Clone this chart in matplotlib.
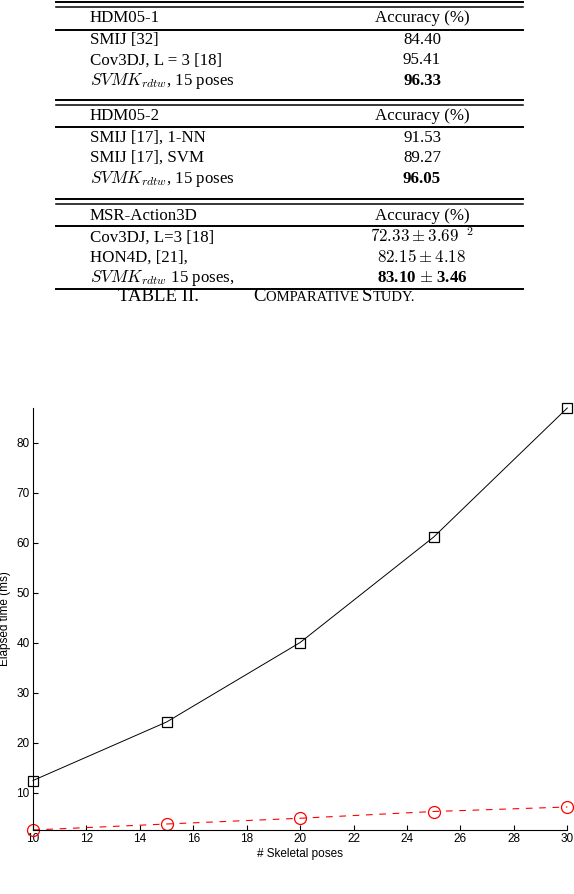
import matplotlib
matplotlib.use("Agg")
import matplotlib.pyplot as plt
from matplotlib.lines import Line2D

# --- data ---
poses = [10, 15, 20, 25, 30]
time_black = [12.4, 24.1, 40.0, 61.1, 86.9]
time_red = [2.5, 3.7, 4.85, 6.2, 7.1]

headers = ["HDM05-1", "HDM05-2", "MSR-Action3D"]
methods = [
	["SMIJ [32]", "Cov3DJ, L = 3 [18]", r"$SVMK_{rdtw}$, 15 poses"],
	["SMIJ [17], 1-NN", "SMIJ [17], SVM", r"$SVMK_{rdtw}$, 15 poses"],
	["Cov3DJ, L=3 [18]", "HON4D, [21],", r"$SVMK_{rdtw}$ 15 poses,"],
]
accuracies = [
	["84.40", "95.41", "96.33"],
	["91.53", "89.27", "96.05"],
	[r"$72.33 \pm 3.69\;\;{}^{2}$", r"$82.15 \pm 4.18$", r"83.10 $\pm$ 3.46"],
]
best = 2

plt.rcParams["mathtext.fontset"] = "cm"

fig = plt.figure(figsize=(5.74, 8.94), dpi=100)

# table drawn in pixel coordinates on an invisible axes
tab = fig.add_axes([0, 0, 1, 1])
tab.set_xlim(0, 574)
tab.set_ylim(894, 0)
tab.axis("off")

x0, x1 = 56, 523
xl, xr = 90, 422
double_y = [2, 100, 199]
header_y = [21.5, 120.5, 220]
rule_y = [30, 126.5, 226]
row_y = [[44, 64.5, 85], [141.5, 162, 183], [241.5, 261.5, 282]]
bottom_y = 289
serif = "Liberation Serif"
fs = 12.2

for b in range(3):
	top = double_y[b]
	tab.add_line(Line2D([x0, x1], [top, top], color="k", lw=1.4))
	tab.add_line(Line2D([x0, x1], [top + 4.5, top + 4.5], color="k", lw=1.1))
	tab.add_line(Line2D([x0, x1], [rule_y[b], rule_y[b]], color="k", lw=1.4))
	tab.text(xl, header_y[b], headers[b], family=serif, fontsize=fs, va="baseline")
	tab.text(xr, header_y[b], "Accuracy (%)", family=serif, fontsize=fs, va="baseline", ha="center")
	for r in range(3):
		w = "bold" if r == best else "normal"
		tab.text(xl, row_y[b][r], methods[b][r], family=serif, fontsize=fs, va="baseline")
		tab.text(xr, row_y[b][r], accuracies[b][r], family=serif, fontsize=fs,
				 va="baseline", ha="center", fontweight=w)
tab.add_line(Line2D([x0, x1], [bottom_y, bottom_y], color="k", lw=1.4))

# caption with small caps
renderer = fig.canvas.get_renderer()
cap_y = 301
tab.text(118, cap_y, "TABLE II.", family=serif, fontsize=13.5, va="baseline")
pieces = [("C", 13.5), ("OMPARATIVE ", 10.5), ("S", 13.5), ("TUDY.", 10.5)]
cx = 253
for s, size in pieces:
	t = tab.text(cx, cap_y, s, family=serif, fontsize=size, va="baseline")
	cx += t.get_window_extent(renderer).width

# --- plot ---
ax = fig.add_axes([33 / 574, 64 / 894, 534.3 / 574, 422 / 894])
ax.plot(poses, time_black, "-", color="k", lw=0.7, marker="s", ms=6.7,
		mfc="none", mec="k", mew=0.9, clip_on=False)
ax.plot(poses, time_red, color="r", lw=0.8, ls=(0, (6, 6)), marker="o", ms=8.6,
		mfc="none", mec="r", mew=0.9, clip_on=False)
ax.set_xlim(10, 30)
ax.set_ylim(min(time_red), max(time_black))
ax.set_xticks(range(10, 31, 2))
ax.set_yticks(range(10, 81, 10))
for s in ["top", "right"]:
	ax.spines[s].set_visible(False)
for s in ["left", "bottom"]:
	ax.spines[s].set_linewidth(0.8)
ax.tick_params(direction="in", length=3.6, width=0.8, labelsize=8.5, pad=2.5)
for lab in ax.get_xticklabels() + ax.get_yticklabels():
	lab.set_family("Liberation Sans")
ax.set_xlabel("# Skeletal poses", family="Liberation Sans", fontsize=8.5, labelpad=2)
ax.set_ylabel("Elapsed time (ms)", family="Liberation Sans", fontsize=8.5, labelpad=4)

fig.savefig("out.png", dpi=100)
